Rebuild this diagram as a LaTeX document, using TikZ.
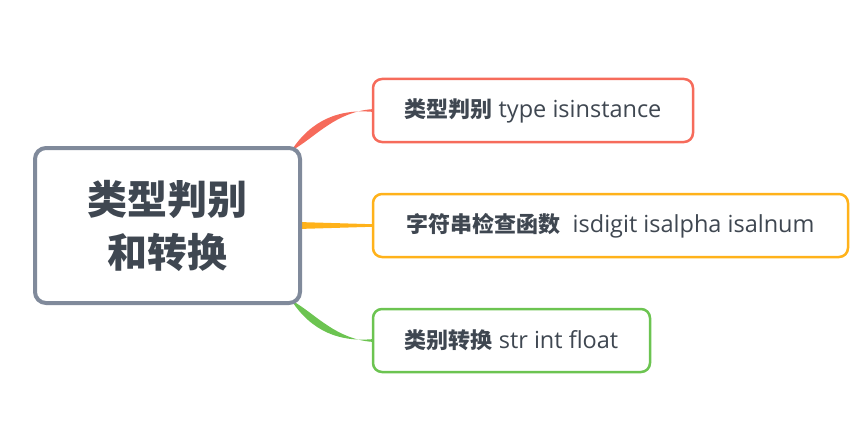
\documentclass[tikz,border=0pt]{standalone}
\usepackage{fontspec}
\usetikzlibrary{backgrounds}
\setmainfont{Open Sans}
\newfontfamily\cjk{Noto Sans CJK SC}
\definecolor{txt}{HTML}{3F4751}
\definecolor{cgray}{HTML}{808A9B}
\definecolor{cred}{HTML}{F66B5B}
\definecolor{corange}{HTML}{FFB21A}
\definecolor{cgreen}{HTML}{6CC451}
\newcommand{\zh}[1]{{\cjk\bfseries\fontsize{22pt}{24pt}\selectfont #1}}
\tikzset{
  topic/.style={draw=#1, line width=2.5pt, rounded corners=9pt, fill=white, text=txt,
    minimum height=63pt, inner sep=0pt, font=\fontsize{23.5pt}{26pt}\selectfont},
  central/.style={draw=cgray, line width=4pt, rounded corners=11pt, fill=white, text=txt,
    minimum width=265pt, minimum height=155pt, inner sep=0pt, align=center,
    font=\cjk\bfseries\fontsize{40pt}{53pt}\selectfont},
}
\begin{document}
\begin{tikzpicture}[x=1pt,y=-1pt]
\useasboundingbox (0,0) rectangle (866,433);
\node[central] (c) at (167.5,225.5) {类型判别\\和转换};
\node[topic=cred, minimum width=320pt] (n1) at (533,110.5) {\zh{类型判别} type isinstance};
\node[topic=corange, minimum width=475pt] (n2) at (610.5,225.5) {\zh{字符串检查函数}\ \ isdigit isalpha isalnum};
\node[topic=cgreen, minimum width=277pt] (n3) at (511.5,340.5) {\zh{类别转换} str int float};
\coordinate (rs) at (292,152);
\coordinate (gs) at (292,299);
\coordinate (os) at (298,225.5);
\begin{pgfonlayer}{background}
\fill[cred] ([xshift=-4pt,yshift=-4pt]rs) .. controls (306,125) and (333,108.5) .. ([yshift=-1.3pt]n1.west)
  -- ([yshift=1.3pt]n1.west) .. controls (337,112) and (317,135) .. ([xshift=4pt,yshift=4pt]rs) -- cycle;
\fill[cgreen] ([xshift=-4pt,yshift=4pt]gs) .. controls (306,326) and (333,342.5) .. ([yshift=1.3pt]n3.west)
  -- ([yshift=-1.3pt]n3.west) .. controls (337,339) and (317,316) .. ([xshift=4pt,yshift=-4pt]gs) -- cycle;
\fill[corange] ([yshift=-3.5pt]os) -- ([yshift=-1.3pt]n2.west) -- ([yshift=1.3pt]n2.west) -- ([yshift=3.5pt]os) -- cycle;
\end{pgfonlayer}
\end{tikzpicture}
\end{document}
